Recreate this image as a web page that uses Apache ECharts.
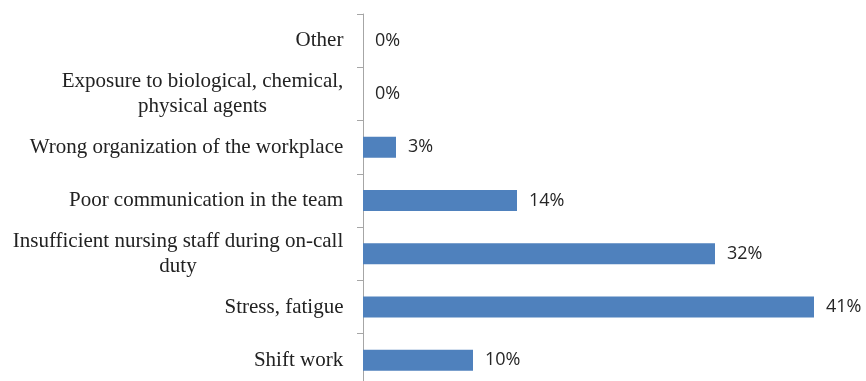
<!DOCTYPE html>
<html>
<head>
<meta charset="utf-8">
<script src="https://cdn.jsdelivr.net/npm/echarts@6/dist/echarts.min.js"></script>
<style>
  html, body { margin: 0; padding: 0; background: #ffffff; }
  #chart { width: 866px; height: 381px; }
</style>
</head>
<body>
<div id="chart"></div>
<script>
// Causes, listed from the bottom bar to the top bar
const categories = [
  'Shift work',
  'Stress, fatigue',
  'Insufficient nursing staff during on-call\nduty',
  'Poor communication in the team',
  'Wrong organization of the workplace',
  'Exposure to biological, chemical,\nphysical agents',
  'Other'
];
// Share of responses, percent
const shares = [10, 41, 32, 14, 3, 0, 0];
const axisMax = 45;

const serif = "'Liberation Serif', 'Times New Roman', serif";
const labelFontSize = 21;

// Width of the widest line of each category label, so every line can be
// centered inside a box of that width
const measureCtx = document.createElement('canvas').getContext('2d');
measureCtx.font = labelFontSize + 'px ' + serif;
const rich = {};
categories.forEach(function (name, i) {
  const w = Math.max.apply(null, name.split('\n').map(function (l) {
    return measureCtx.measureText(l).width;
  }));
  rich['k' + i] = {
    width: Math.ceil(w) + 1,
    align: 'center',
    fontFamily: serif,
    fontSize: labelFontSize,
    lineHeight: 25,
    color: '#222222'
  };
});

const chart = echarts.init(document.getElementById('chart'), null, { renderer: 'canvas' });

chart.setOption({
  animation: false,
  backgroundColor: '#ffffff',
  grid: {
    left: 363, width: 495, top: 14, height: 373,
    containLabel: false,
    outerBoundsMode: 'none'
  },
  xAxis: {
    type: 'value',
    min: 0,
    max: axisMax,
    show: false
  },
  yAxis: {
    type: 'category',
    data: categories,
    axisLine: { show: true, lineStyle: { color: '#a6a6a6', width: 1 } },
    axisTick: { show: true, length: 6, lineStyle: { color: '#a6a6a6' } },
    splitLine: { show: false },
    axisLabel: {
      margin: 19,
      align: 'right',
      formatter: function (v) {
        const key = 'k' + categories.indexOf(v);
        return v.split('\n').map(function (l) { return '{' + key + '|' + l + '}'; }).join('\n');
      },
      rich: rich
    }
  },
  series: [{
    type: 'bar',
    data: shares,
    barWidth: 21,
    itemStyle: { color: '#4f81bd' },
    label: {
      show: true,
      position: 'right',
      distance: 12,
      formatter: '{c}%',
      fontFamily: "'Open Sans', 'Liberation Sans', sans-serif",
      fontSize: 18,
      color: '#262626'
    }
  }]
});
</script>
</body>
</html>
